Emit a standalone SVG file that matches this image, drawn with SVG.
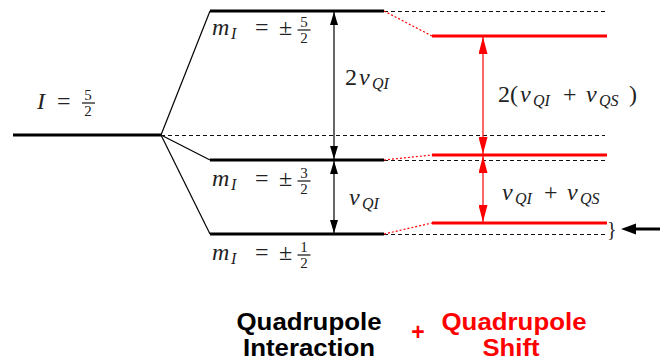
<svg xmlns="http://www.w3.org/2000/svg" width="670" height="360" viewBox="0 0 670 360">
<style>
.lvl{stroke:#000;stroke-width:3;fill:none}
.lvlr{stroke:#f00;stroke-width:3;fill:none}
.thin{stroke:#000;stroke-width:1.2;fill:none}
.dash{stroke:#111;stroke-width:1;stroke-dasharray:4 3;fill:none}
.rdot{stroke:#f00;stroke-width:1.2;stroke-dasharray:2 2;fill:none}
.ab{stroke:#000;stroke-width:1.2;marker-start:url(#hb);marker-end:url(#hb)}
.ar{stroke:#f00;stroke-width:1.2;marker-start:url(#hr);marker-end:url(#hr)}
.m{font-family:"Liberation Serif",serif;font-size:24px;fill:#222}
.i{font-style:italic}
.s{font-size:16px}
.f{font-size:15px}
.bar{stroke:#222;stroke-width:1.3}
.lab{font-family:"Liberation Sans",Arial,sans-serif;font-weight:bold;font-size:23px;text-anchor:middle}
</style>
<defs>
<marker id="hb" markerUnits="userSpaceOnUse" markerWidth="13" markerHeight="8" refX="13" refY="4" orient="auto-start-reverse"><path d="M0,0 L13,4 L0,8 z" fill="#000"/></marker>
<marker id="hr" markerUnits="userSpaceOnUse" markerWidth="17" markerHeight="9" refX="17" refY="4.5" orient="auto-start-reverse"><path d="M0,0 L17,4.5 L0,9 z" fill="#f00"/></marker>
</defs>

<g id="connectors">
<line class="thin" x1="161" y1="135" x2="210" y2="11"/>
<line class="thin" x1="161" y1="135" x2="210" y2="160"/>
<line class="thin" x1="161" y1="135" x2="210" y2="234"/>
<line class="dash" x1="161" y1="135.5" x2="605" y2="135.5"/>
<line class="dash" x1="384" y1="11.5" x2="605" y2="11.5"/>
<line class="dash" x1="384" y1="160.5" x2="605" y2="160.5"/>
<line class="dash" x1="384" y1="234.5" x2="605" y2="234.5"/>
<line class="rdot" x1="384" y1="11" x2="432" y2="36"/>
<line class="rdot" x1="384" y1="160" x2="432" y2="155"/>
<line class="rdot" x1="384" y1="234" x2="432" y2="223"/>
<line class="ab" x1="334" y1="12" x2="334" y2="159"/>
<line class="ab" x1="334" y1="161" x2="334" y2="233"/>
<line class="ar" x1="483" y1="37" x2="483" y2="154"/>
<line class="ar" x1="483" y1="156" x2="483" y2="222"/>
<line stroke="#000" stroke-width="3" x1="634" y1="229" x2="660" y2="229"/>
<polygon points="621,229 636,223.5 636,234.5" fill="#000"/>
</g>

<g id="level-I">
<line class="lvl" x1="13" y1="135" x2="161" y2="135"/>
<text class="m"><tspan class="i" x="37" y="109">I</tspan><tspan x="57" y="109">=</tspan></text>
<text class="m f" text-anchor="middle"><tspan x="88" y="100">5</tspan><tspan x="88" y="116">2</tspan></text>
<line class="bar" x1="82" y1="103" x2="95" y2="103"/>
</g>

<g id="level-m52">
<line class="lvl" x1="210" y1="11" x2="384" y2="11"/>
<text class="m"><tspan class="i" x="212" y="35">m</tspan><tspan class="i s" x="231" y="39">I</tspan><tspan x="255" y="35">=</tspan><tspan x="279" y="35">±</tspan></text>
<text class="m f" text-anchor="middle"><tspan x="304" y="27">5</tspan><tspan x="304" y="43">2</tspan></text>
<line class="bar" x1="297.5" y1="30" x2="310.5" y2="30"/>
</g>

<g id="level-m32">
<line class="lvl" x1="210" y1="160" x2="384" y2="160"/>
<text class="m"><tspan class="i" x="212" y="186">m</tspan><tspan class="i s" x="231" y="190">I</tspan><tspan x="255" y="186">=</tspan><tspan x="279" y="186">±</tspan></text>
<text class="m f" text-anchor="middle"><tspan x="304" y="178">3</tspan><tspan x="304" y="194">2</tspan></text>
<line class="bar" x1="297.5" y1="181" x2="310.5" y2="181"/>
</g>

<g id="level-m12">
<line class="lvl" x1="210" y1="234" x2="384" y2="234"/>
<text class="m"><tspan class="i" x="212" y="260">m</tspan><tspan class="i s" x="231" y="264">I</tspan><tspan x="255" y="260">=</tspan><tspan x="279" y="260">±</tspan></text>
<text class="m f" text-anchor="middle"><tspan x="304" y="252">1</tspan><tspan x="304" y="268">2</tspan></text>
<line class="bar" x1="297.5" y1="255" x2="310.5" y2="255"/>
</g>

<g id="red-level-top"><line class="lvlr" x1="432" y1="36" x2="607" y2="36"/></g>
<g id="red-level-mid"><line class="lvlr" x1="432" y1="155" x2="607" y2="155"/></g>
<g id="red-level-bot"><line class="lvlr" x1="432" y1="223" x2="607" y2="223"/></g>

<g id="label-2vqi">
<text class="m"><tspan x="345" y="85">2</tspan><tspan class="i" x="359" y="85">ν</tspan><tspan class="i s" x="372" y="89">QI</tspan></text>
</g>
<g id="label-vqi">
<text class="m"><tspan class="i" x="349" y="205">ν</tspan><tspan class="i s" x="362" y="209">QI</tspan></text>
</g>
<g id="label-2sum">
<text class="m"><tspan x="498" y="102">2(</tspan><tspan class="i" x="520" y="102">ν</tspan><tspan class="i s" x="533" y="106">QI</tspan><tspan x="563" y="102">+</tspan><tspan class="i" x="586" y="102">ν</tspan><tspan class="i s" x="599" y="106">QS</tspan><tspan x="629" y="102">)</tspan></text>
</g>
<g id="label-sum">
<text class="m"><tspan class="i" x="502" y="200">ν</tspan><tspan class="i s" x="515" y="204">QI</tspan><tspan x="544" y="200">+</tspan><tspan class="i" x="567" y="200">ν</tspan><tspan class="i s" x="580" y="204">QS</tspan></text>
</g>
<g id="brace">
<text class="m" x="607" y="236" style="font-size:20px">}</text>
</g>

<g id="caption-qi">
<text class="lab" fill="#000" x="309" y="330" textLength="145" lengthAdjust="spacingAndGlyphs">Quadrupole</text>
<text class="lab" fill="#000" x="309" y="356" textLength="132" lengthAdjust="spacingAndGlyphs">Interaction</text>
</g>
<g id="caption-plus">
<text class="lab" fill="#f00" x="418" y="340">+</text>
</g>
<g id="caption-qs">
<text class="lab" fill="#f00" x="514" y="330" textLength="145" lengthAdjust="spacingAndGlyphs">Quadrupole</text>
<text class="lab" fill="#f00" x="511" y="356" textLength="57" lengthAdjust="spacingAndGlyphs">Shift</text>
</g>
</svg>
